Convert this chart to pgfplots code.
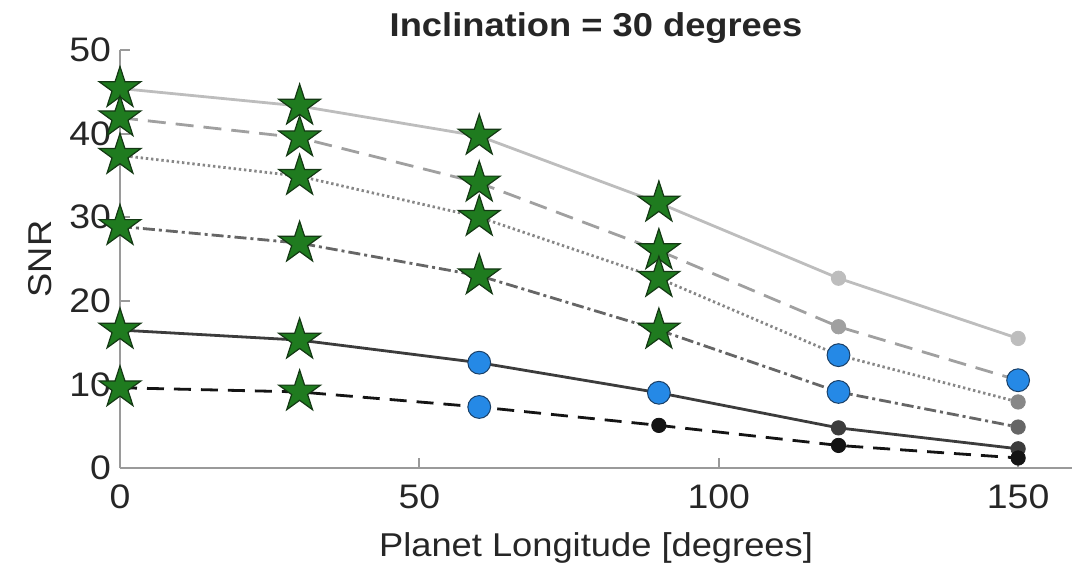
\documentclass[border=0pt]{standalone}
\usepackage{fontspec}
\setmainfont[FakeStretch=1.1]{Liberation Sans}
\usepackage{pgfplots}
\pgfplotsset{compat=1.18}
\definecolor{cA}{HTML}{BDBDBD}
\definecolor{cB}{HTML}{A0A0A0}
\definecolor{cC}{HTML}{878787}
\definecolor{cD}{HTML}{666666}
\definecolor{cE}{HTML}{3C3C3C}
\definecolor{cF}{HTML}{141414}
\definecolor{stg}{HTML}{1F7B1F}
\definecolor{stedge}{HTML}{143814}
\definecolor{blu}{HTML}{2589E6}
\definecolor{bluedge}{HTML}{1A3F66}
\definecolor{axgray}{HTML}{9A9A9A}
\definecolor{txt}{HTML}{262626}
\pgfdeclareplotmark{pent}{%
  \pgfpathmoveto{\pgfpointpolar{90}{\pgfplotmarksize}}%
  \pgfpathlineto{\pgfpointpolar{126}{0.382\pgfplotmarksize}}%
  \pgfpathlineto{\pgfpointpolar{162}{\pgfplotmarksize}}%
  \pgfpathlineto{\pgfpointpolar{198}{0.382\pgfplotmarksize}}%
  \pgfpathlineto{\pgfpointpolar{234}{\pgfplotmarksize}}%
  \pgfpathlineto{\pgfpointpolar{270}{0.382\pgfplotmarksize}}%
  \pgfpathlineto{\pgfpointpolar{306}{\pgfplotmarksize}}%
  \pgfpathlineto{\pgfpointpolar{342}{0.382\pgfplotmarksize}}%
  \pgfpathlineto{\pgfpointpolar{18}{\pgfplotmarksize}}%
  \pgfpathlineto{\pgfpointpolar{54}{0.382\pgfplotmarksize}}%
  \pgfpathclose
  \pgfusepathqfillstroke}
\begin{document}
\begin{tikzpicture}
\begin{axis}[
  scale only axis, width=476pt, height=209pt,
  xmin=0, xmax=159, ymin=0, ymax=50,
  axis x line*=bottom, axis y line*=left,
  axis line style={-, draw=axgray, line width=0.9pt},
  xtick={0,50,100,150}, ytick={0,10,20,30,40,50},
  tick align=inside, major tick length=5pt,
  tick style={draw=axgray, line width=0.9pt},
  tick label style={font=\fontsize{17}{20}\selectfont, text=txt},
  xticklabel style={yshift=-5pt},
  yticklabel style={xshift=-1pt},
  /pgf/number format/assume math mode=true,
  clip=false,
  xlabel={Planet Longitude [degrees]},
  ylabel={SNR},
  label style={font=\fontsize{16.5}{19}\selectfont, text=txt},
  xlabel style={at={(axis description cs:0.5,-0.191)}, anchor=center},
  ylabel style={at={(axis description cs:-0.084,0.5)}, anchor=center},
  title={Inclination = 30 degrees},
  title style={font=\fontsize{16.5}{19}\selectfont\bfseries, text=txt, at={(axis description cs:0.5,1)}, anchor=center, yshift=5pt},
]
% lines
\addplot[cA, line width=1.4pt, mark=none] coordinates {(0,45.4)(30,43.3)(60,39.7)(90,31.7)(120,22.7)(150,15.5)};
\addplot[cB, line width=1.4pt, mark=none, dash pattern=on 9pt off 5pt] coordinates {(0,41.9)(30,39.5)(60,34.1)(90,26.0)(120,16.9)(150,10.5)};
\addplot[cC, line width=1.4pt, mark=none, dash pattern=on 1.2pt off 1.4pt] coordinates {(0,37.4)(30,34.9)(60,30.0)(90,22.7)(120,13.5)(150,7.9)};
\addplot[cD, line width=1.4pt, mark=none, dash pattern=on 6pt off 2pt on 1.5pt off 2pt] coordinates {(0,28.9)(30,26.9)(60,23.0)(90,16.5)(120,9.1)(150,4.9)};
\addplot[cE, line width=1.4pt, mark=none] coordinates {(0,16.5)(30,15.3)(60,12.6)(90,9.0)(120,4.8)(150,2.3)};
\addplot[cF, line width=1.4pt, mark=none, dash pattern=on 8.5pt off 5pt] coordinates {(0,9.6)(30,9.1)(60,7.3)(90,5.1)(120,2.7)(150,1.2)};
% small dots
\addplot[only marks, mark=*, mark size=3.6pt, mark options={fill=cA, draw=cA}] coordinates {(120,22.7)(150,15.5)};
\addplot[only marks, mark=*, mark size=3.6pt, mark options={fill=cB, draw=cB}] coordinates {(120,16.9)};
\addplot[only marks, mark=*, mark size=3.6pt, mark options={fill=cC, draw=cC}] coordinates {(150,7.9)};
\addplot[only marks, mark=*, mark size=3.6pt, mark options={fill=cD, draw=cD}] coordinates {(150,4.9)};
\addplot[only marks, mark=*, mark size=3.6pt, mark options={fill=cE, draw=cE}] coordinates {(120,4.8)(150,2.3)};
\addplot[only marks, mark=*, mark size=3.6pt, mark options={fill=cF, draw=cF}] coordinates {(90,5.1)(120,2.7)(150,1.2)};
% blue circles
\addplot[only marks, mark=*, mark size=5.7pt, mark options={fill=blu, draw=bluedge, line width=0.5pt}] coordinates {(60,12.6)(90,9.0)(60,7.3)(120,13.5)(120,9.1)(150,10.5)};
% green stars
\addplot[only marks, mark=pent, mark size=11pt, mark options={fill=stg, draw=stedge, line width=0.6pt}] coordinates {
(0,45.4)(30,43.3)(60,39.7)(90,31.7)
(0,41.9)(30,39.5)(60,34.1)(90,26.0)
(0,37.4)(30,34.9)(60,30.0)(90,22.7)
(0,28.9)(30,26.9)(60,23.0)(90,16.5)
(0,16.5)(30,15.3)
(0,9.6)(30,9.1)};
\end{axis}
\pgfresetboundingbox
\path[use as bounding box] ([xshift=-60pt,yshift=-53pt]current axis.south west) rectangle ([xshift=1pt,yshift=25pt]current axis.north east);
\end{tikzpicture}
\end{document}
